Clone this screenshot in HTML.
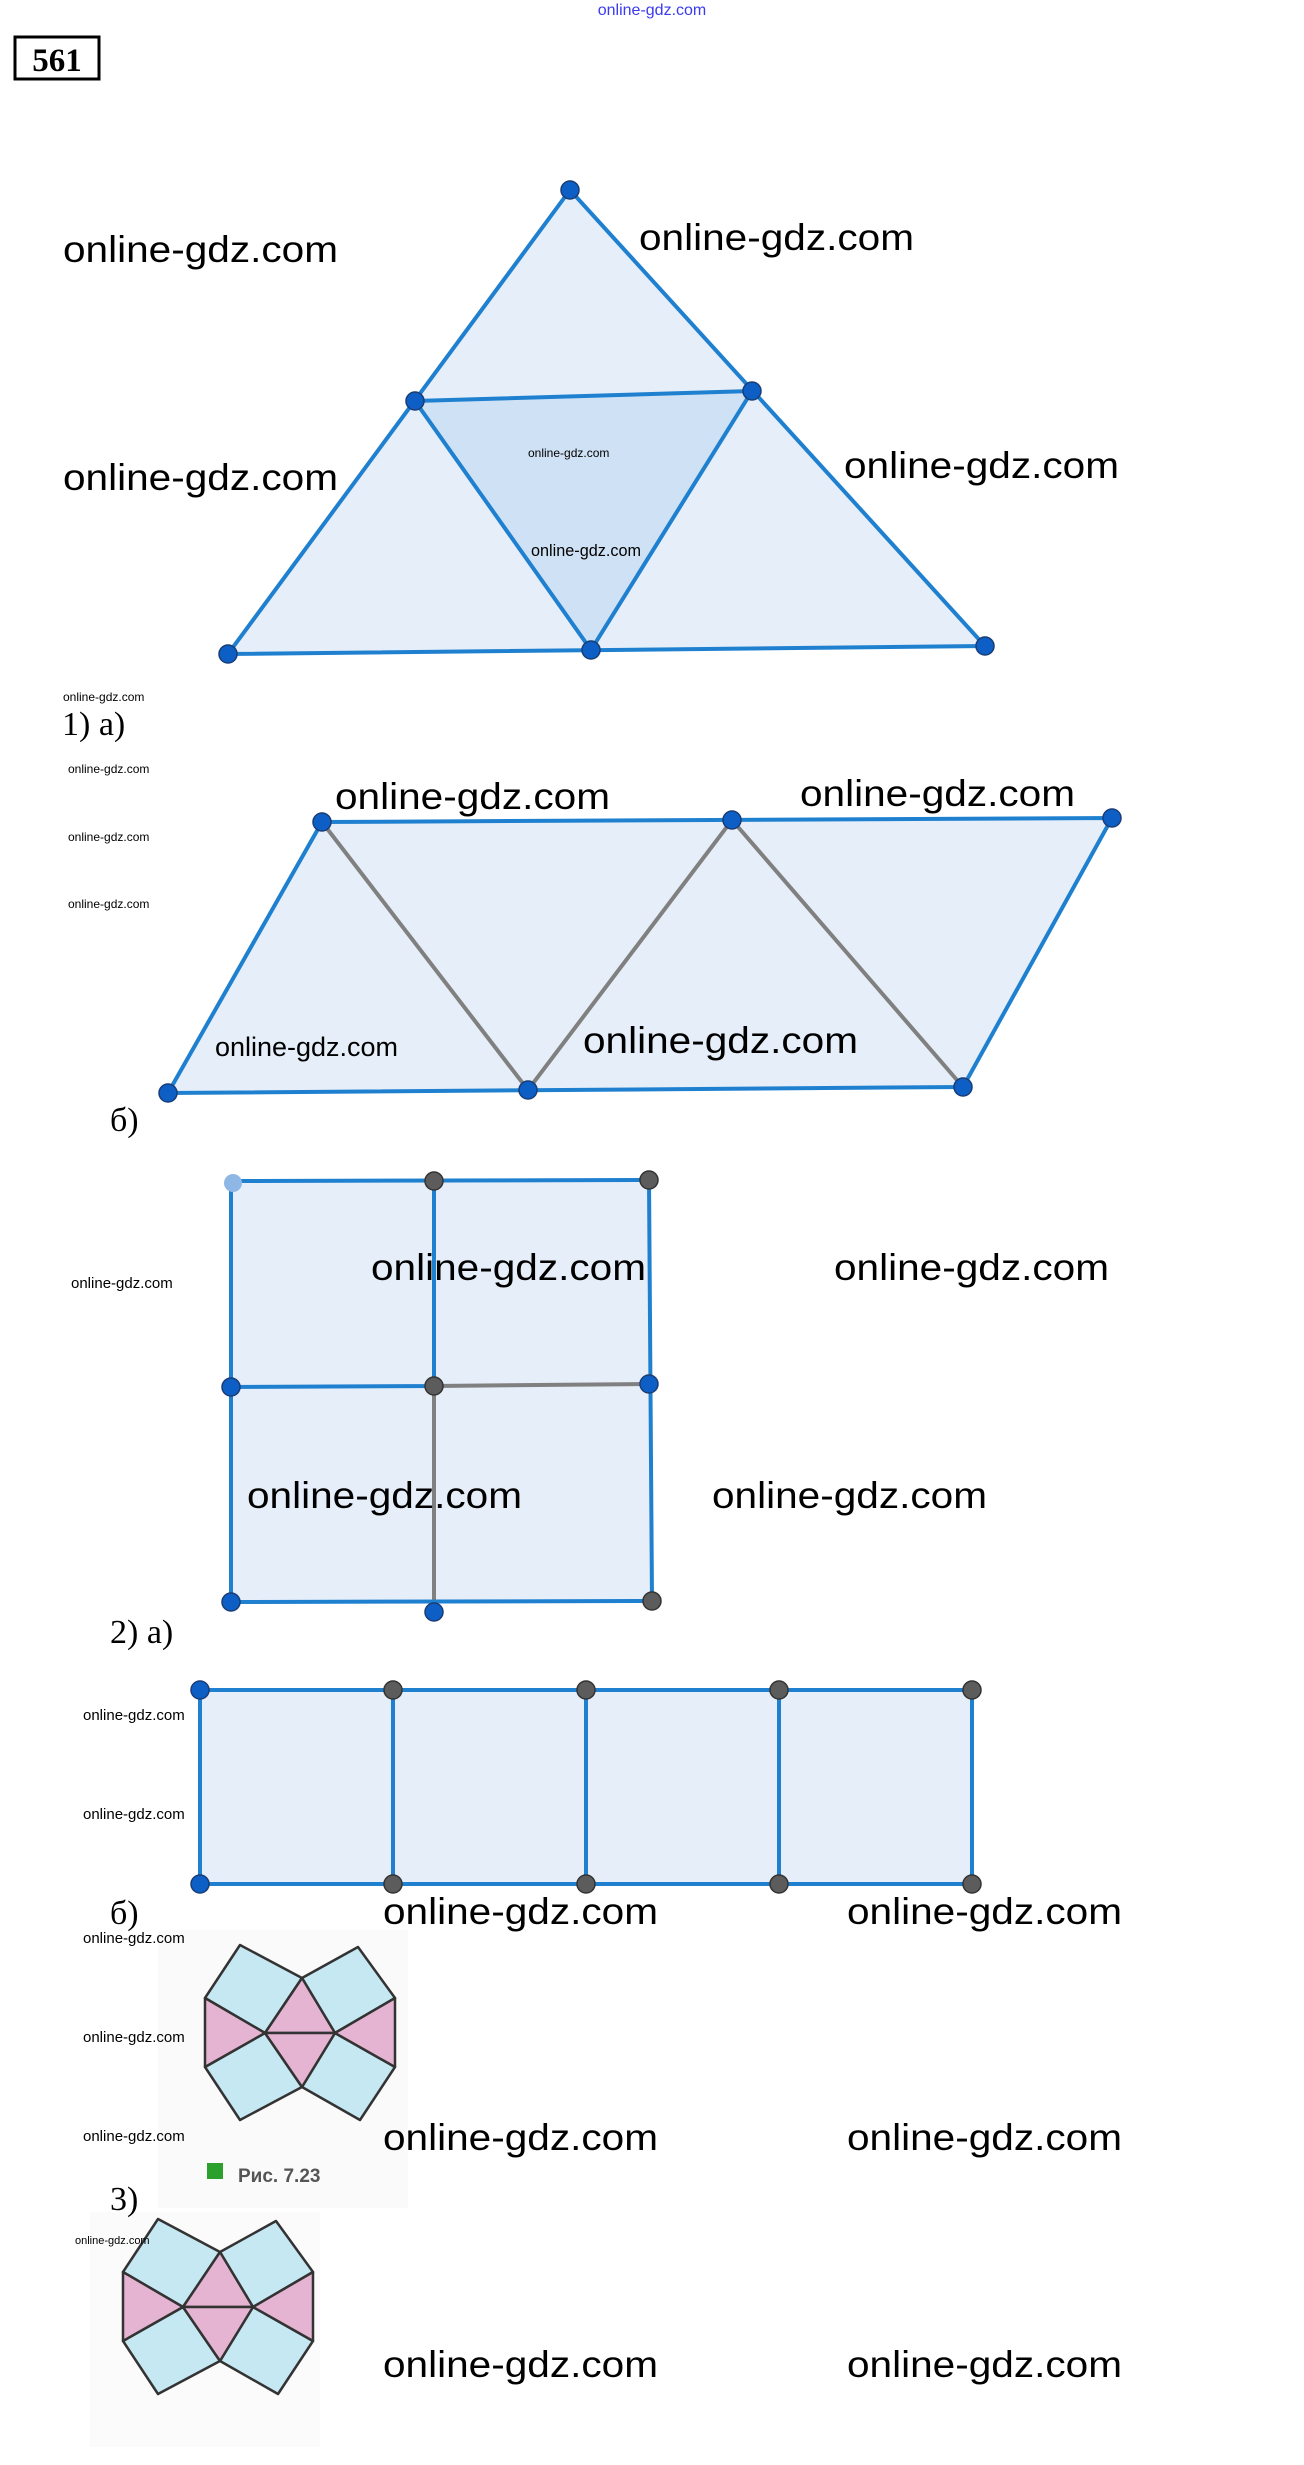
<!DOCTYPE html>
<html><head><meta charset="utf-8"><style>
html,body{margin:0;padding:0;background:#fff;}
svg{display:block;}
.w{font-family:"Liberation Sans",sans-serif;fill:#000;}
.s{font-family:"Liberation Serif",serif;fill:#000;}
.f{fill:#e6eef9;stroke:none;}
.b{stroke:#1f80d0;stroke-width:4;fill:none;stroke-linecap:round;}
.g{stroke:#808080;stroke-width:4;fill:none;}
.db{fill:#0d5fc6;stroke:#1a3d75;stroke-width:1.5;}
.dg{fill:#5c5c5c;stroke:#333;stroke-width:1.5;}
.pk{fill:#e5b4d2;stroke:#333;stroke-width:2.5;stroke-linejoin:round;}
.bl{fill:#c6e8f3;stroke:#333;stroke-width:2.5;stroke-linejoin:round;}
</style></head><body>
<svg width="1304" height="2465" viewBox="0 0 1304 2465" xmlns="http://www.w3.org/2000/svg">
<defs>
<g id="shp">
<polygon class="bl" points="205,1998 240,1945 302,1978 265,2033"/>
<polygon class="bl" points="302,1978 358,1947 395,1998 335,2033"/>
<polygon class="bl" points="205,2067 265,2033 302,2087 240,2120"/>
<polygon class="bl" points="335,2033 395,2067 360,2120 302,2087"/>
<polygon class="pk" points="302,1978 265,2033 335,2033"/>
<polygon class="pk" points="302,2087 265,2033 335,2033"/>
<polygon class="pk" points="205,1998 205,2067 265,2033"/>
<polygon class="pk" points="395,1998 395,2067 335,2033"/>
</g>
</defs>
<text x="652" y="15" text-anchor="middle" font-family="Liberation Sans,sans-serif" font-size="16" fill="#3a3af0">online-gdz.com</text>
<rect x="15" y="37" width="84" height="42" fill="none" stroke="#000" stroke-width="3"/>
<text class="s" x="57" y="71" text-anchor="middle" font-size="33" font-weight="bold">561</text>

<polygon class="f" points="570,190 228,654 985,646"/>
<polygon points="415,401 752,391 591,650" fill="#cfe2f5"/>
<polygon class="b" points="570,190 228,654 985,646"/>
<polygon class="b" points="415,401 752,391 591,650"/>
<g class="db"><circle cx="570" cy="190" r="9"/><circle cx="415" cy="401" r="9"/><circle cx="752" cy="391" r="9"/><circle cx="228" cy="654" r="9"/><circle cx="591" cy="650" r="9"/><circle cx="985" cy="646" r="9"/></g>
<text class="w" x="63" y="262" font-size="37" textLength="275" lengthAdjust="spacingAndGlyphs">online-gdz.com</text>
<text class="w" x="639" y="250" font-size="37" textLength="275" lengthAdjust="spacingAndGlyphs">online-gdz.com</text>
<text class="w" x="63" y="490" font-size="37" textLength="275" lengthAdjust="spacingAndGlyphs">online-gdz.com</text>
<text class="w" x="844" y="478" font-size="37" textLength="275" lengthAdjust="spacingAndGlyphs">online-gdz.com</text>
<text class="w" x="528" y="457" font-size="12">online-gdz.com</text>
<text class="w" x="531" y="556" font-size="17" textLength="110" lengthAdjust="spacingAndGlyphs">online-gdz.com</text>
<text class="w" x="63" y="701" font-size="12">online-gdz.com</text>
<text class="s" x="62" y="735" font-size="34">1) а)</text>

<polygon class="f" points="168,1093 322,822 1112,818 963,1087"/>
<polyline class="g" points="322,822 528,1090 732,820 963,1087"/>
<polygon class="b" points="168,1093 322,822 1112,818 963,1087"/>
<g class="db"><circle cx="168" cy="1093" r="9"/><circle cx="322" cy="822" r="9"/><circle cx="732" cy="820" r="9"/><circle cx="1112" cy="818" r="9"/><circle cx="528" cy="1090" r="9"/><circle cx="963" cy="1087" r="9"/></g>
<text class="w" x="335" y="809" font-size="37" textLength="275" lengthAdjust="spacingAndGlyphs">online-gdz.com</text>
<text class="w" x="800" y="806" font-size="37" textLength="275" lengthAdjust="spacingAndGlyphs">online-gdz.com</text>
<text class="w" x="215" y="1056" font-size="27" textLength="183" lengthAdjust="spacingAndGlyphs">online-gdz.com</text>
<text class="w" x="583" y="1053" font-size="37" textLength="275" lengthAdjust="spacingAndGlyphs">online-gdz.com</text>
<text class="w" x="68" y="773" font-size="12">online-gdz.com</text>
<text class="w" x="68" y="841" font-size="12">online-gdz.com</text>
<text class="w" x="68" y="908" font-size="12">online-gdz.com</text>
<text class="s" x="110" y="1131" font-size="34">б)</text>

<polygon class="f" points="231,1181 649,1180 652,1601 231,1602"/>
<polyline class="g" points="434,1386 649,1384"/>
<polyline class="g" points="434,1386 434,1612"/>
<polygon class="b" points="231,1181 649,1180 652,1601 231,1602"/>
<polyline class="b" points="434,1181 434,1386 231,1387"/>
<g class="dg"><circle cx="434" cy="1181" r="9"/><circle cx="649" cy="1180" r="9"/><circle cx="434" cy="1386" r="9"/><circle cx="652" cy="1601" r="9"/></g>
<g class="db"><circle cx="231" cy="1387" r="9"/><circle cx="649" cy="1384" r="9"/><circle cx="231" cy="1602" r="9"/><circle cx="434" cy="1612" r="9"/></g>
<circle cx="233" cy="1183" r="9" fill="#8fb7e6"/>
<text class="w" x="371" y="1280" font-size="37" textLength="275" lengthAdjust="spacingAndGlyphs">online-gdz.com</text>
<text class="w" x="834" y="1280" font-size="37" textLength="275" lengthAdjust="spacingAndGlyphs">online-gdz.com</text>
<text class="w" x="247" y="1508" font-size="37" textLength="275" lengthAdjust="spacingAndGlyphs">online-gdz.com</text>
<text class="w" x="712" y="1508" font-size="37" textLength="275" lengthAdjust="spacingAndGlyphs">online-gdz.com</text>
<text class="w" x="71" y="1288" font-size="15">online-gdz.com</text>
<text class="s" x="110" y="1643" font-size="34">2) а)</text>

<rect class="f" x="200" y="1690" width="772" height="194"/>
<rect class="b" x="200" y="1690" width="772" height="194"/>
<g class="b"><line x1="393" y1="1690" x2="393" y2="1884"/><line x1="586" y1="1690" x2="586" y2="1884"/><line x1="779" y1="1690" x2="779" y2="1884"/></g>
<g class="db"><circle cx="200" cy="1690" r="9"/><circle cx="200" cy="1884" r="9"/></g>
<g class="dg"><circle cx="393" cy="1690" r="9"/><circle cx="586" cy="1690" r="9"/><circle cx="779" cy="1690" r="9"/><circle cx="972" cy="1690" r="9"/><circle cx="393" cy="1884" r="9"/><circle cx="586" cy="1884" r="9"/><circle cx="779" cy="1884" r="9"/><circle cx="972" cy="1884" r="9"/></g>
<text class="w" x="83" y="1720" font-size="15">online-gdz.com</text>
<text class="w" x="83" y="1819" font-size="15">online-gdz.com</text>
<text class="w" x="383" y="1924" font-size="37" textLength="275" lengthAdjust="spacingAndGlyphs">online-gdz.com</text>
<text class="w" x="847" y="1924" font-size="37" textLength="275" lengthAdjust="spacingAndGlyphs">online-gdz.com</text>
<text class="s" x="110" y="1924" font-size="34">б)</text>

<rect x="158" y="1930" width="250" height="278" fill="#fafafa"/>
<rect x="90" y="2212" width="230" height="235" fill="#fbfbfb"/>
<use href="#shp"/>
<g transform="translate(-82,274)"><use href="#shp"/></g>
<rect x="207" y="2163" width="16" height="16" fill="#2ca02c"/>
<text x="238" y="2182" font-family="Liberation Sans,sans-serif" font-size="19" font-weight="bold" fill="#555">Рис. 7.23</text>
<text class="w" x="83" y="1943" font-size="15">online-gdz.com</text>
<text class="w" x="83" y="2042" font-size="15">online-gdz.com</text>
<text class="w" x="83" y="2141" font-size="15">online-gdz.com</text>
<text class="w" x="383" y="2150" font-size="37" textLength="275" lengthAdjust="spacingAndGlyphs">online-gdz.com</text>
<text class="w" x="847" y="2150" font-size="37" textLength="275" lengthAdjust="spacingAndGlyphs">online-gdz.com</text>
<text class="s" x="110" y="2210" font-size="34">3)</text>
<text class="w" x="75" y="2244" font-size="11">online-gdz.com</text>
<text class="w" x="383" y="2377" font-size="37" textLength="275" lengthAdjust="spacingAndGlyphs">online-gdz.com</text>
<text class="w" x="847" y="2377" font-size="37" textLength="275" lengthAdjust="spacingAndGlyphs">online-gdz.com</text>
</svg>
</body></html>
